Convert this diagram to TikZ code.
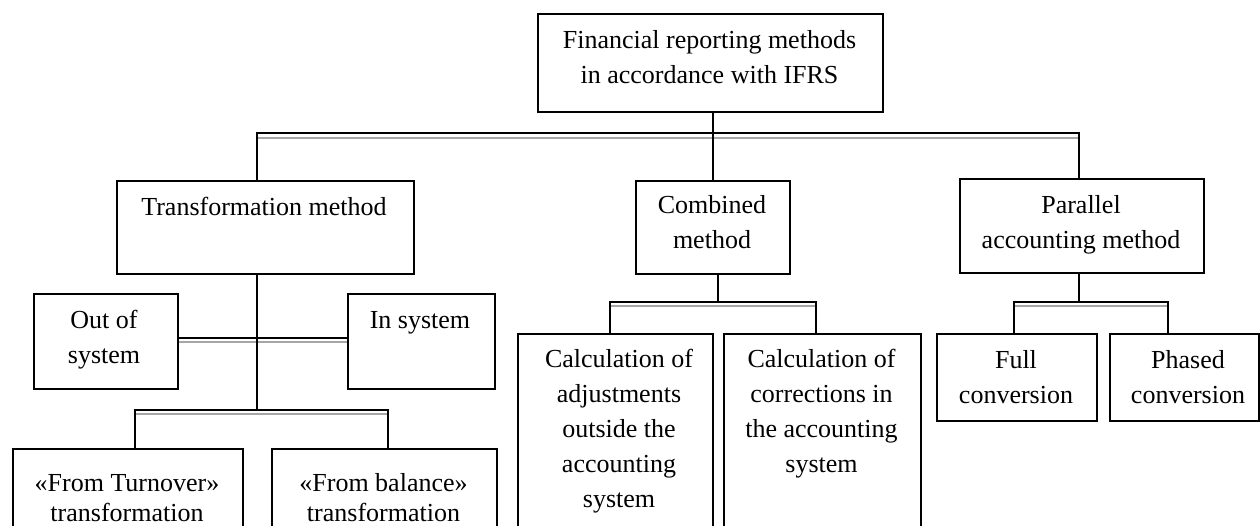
\documentclass[tikz,border=0pt]{standalone}
\usepackage{fontspec}
\setmainfont{Liberation Serif}
\tikzset{
  box/.style={draw=black, line width=1.8pt, inner sep=0pt, anchor=north west},
  txt/.style={font=\fontsize{26}{35}\selectfont, align=center, inner sep=0pt, anchor=base},
  conn/.style={draw=black, line width=1.8pt},
  shade/.style={draw=black!35, line width=1.5pt}
}
\begin{document}
\begin{tikzpicture}[x=1pt,y=-1pt]
\useasboundingbox (0,0) rectangle (1260,525);
\clip (0,0) rectangle (1260,525);
\fill[white] (0,0) rectangle (1260,525);
% boxes
\node[box, minimum width=345pt, minimum height=98pt] (top) at (537,13) {};
\node[box, minimum width=297pt, minimum height=93pt] (tr) at (116,180) {};
\node[box, minimum width=154pt, minimum height=93pt] (cm) at (635,180) {};
\node[box, minimum width=244pt, minimum height=94pt] (par) at (959,178) {};
\node[box, minimum width=144pt, minimum height=95pt] (out) at (33,293) {};
\node[box, minimum width=147pt, minimum height=95pt] (ins) at (347,293) {};
\node[box, minimum width=230pt, minimum height=120pt] (ftt) at (12,448) {};
\node[box, minimum width=225pt, minimum height=120pt] (fbt) at (271,448) {};
\node[box, minimum width=195pt, minimum height=220pt] (ca) at (517,333) {};
\node[box, minimum width=197pt, minimum height=220pt] (cc) at (723,333) {};
\node[box, minimum width=160pt, minimum height=87pt] (full) at (936,333) {};
\node[box, minimum width=149pt, minimum height=87pt] (ph) at (1109,333) {};
% texts (anchor base = baseline of the last line)
\node[txt] (ttop) at (709.5,83) {Financial reporting methods\\in accordance with IFRS};
\node[txt] (ttr) at (264,215) {Transformation method};
\node[txt] (tcm) at (712,248) {Combined\\method};
\node[txt] (tpar) at (1081,248) {Parallel\\accounting method};
\node[txt] (tout) at (104,363) {Out of\\system};
\node[txt] (tins) at (420,328) {In system};
\node[txt] (tca) at (619,507) {Calculation of\\adjustments\\outside the\\accounting\\system};
\node[txt] (tcc) at (821.5,472) {Calculation of\\corrections in\\the accounting\\system};
\node[txt] (tfull) at (1016,403) {Full\\conversion};
\node[txt] (tph) at (1188,403) {Phased\\conversion};
\node[txt] (tftt) at (127,521) {«From Turnover»\\[-5pt]transformation};
\node[txt] (tfbt) at (383.5,521) {«From balance»\\[-5pt]transformation};
% bus coordinates
\coordinate (bl) at (257,133);
\coordinate (bc) at (713,133);
\coordinate (br) at (1079,133);
\coordinate (tj) at (257,338);
\coordinate (tb) at (257,410);
\coordinate (tbl) at (135,410);
\coordinate (tbr) at (388,410);
\coordinate (cj) at (718,302);
\coordinate (cl) at (610,302);
\coordinate (cr) at (816,302);
\coordinate (pj) at (1079,302);
\coordinate (pl) at (1014,302);
\coordinate (pr) at (1168,302);
% grey shadows
\draw[shade] ([yshift=-5pt]bl) -- ([yshift=-5pt]br);
\draw[shade] ([yshift=-4pt]out.east |- tj) -- ([yshift=-4pt]ins.west |- tj);
\draw[shade] ([yshift=-4pt]tbl) -- ([yshift=-4pt]tbr);
\draw[shade] ([yshift=-4pt]cl) -- ([yshift=-4pt]cr);
\draw[shade] ([yshift=-4pt]pl) -- ([yshift=-4pt]pr);
% connectors
\draw[conn] (top.south -| bc) -- (bc |- cm.north);
\draw[conn] (bl |- tr.north) -- (bl) -- (br) -- (br |- par.north);
\draw[conn] (bl |- tr.south) -- (tb);
\draw[conn] (out.east |- tj) -- (ins.west |- tj);
\draw[conn] (tbl |- ftt.north) -- (tbl) -- (tbr) -- (tbr |- fbt.north);
\draw[conn] (cj |- cm.south) -- (cj);
\draw[conn] (cl |- ca.north) -- (cl) -- (cr) -- (cr |- cc.north);
\draw[conn] (pj |- par.south) -- (pj);
\draw[conn] (pl |- full.north) -- (pl) -- (pr) -- (pr |- ph.north);
\end{tikzpicture}
\end{document}
